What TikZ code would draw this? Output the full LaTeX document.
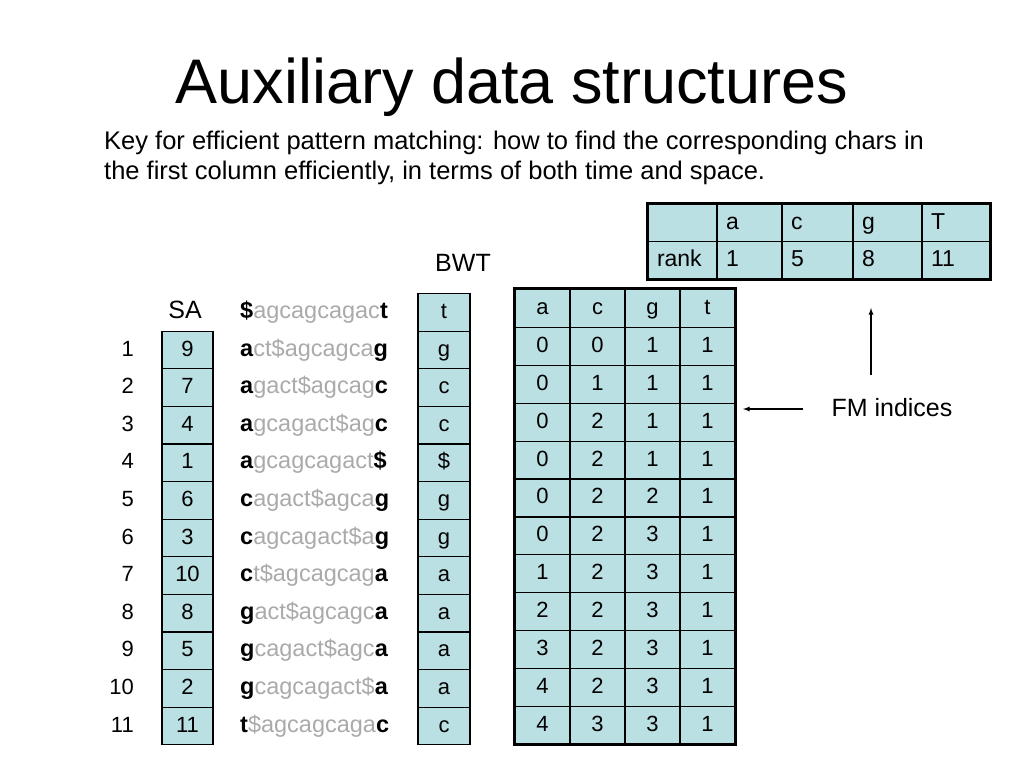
\documentclass[tikz,border=0pt]{standalone}
\usepackage{fontspec}
\setmainfont{Liberation Sans}
\definecolor{cellblue}{RGB}{187,224,227}
\definecolor{fadegray}{RGB}{170,170,170}
\newcommand{\rot}[3]{\textbf{#1}\textcolor{fadegray}{#2}\textbf{#3}}
\begin{document}
\begin{tikzpicture}[x=1pt,y=-1pt,>=latex,
  txt/.style={font=\fontsize{22}{22}\selectfont,text height=16pt,text depth=4pt},
  cell/.style={txt,draw,fill=cellblue,line width=1.2pt,inner sep=0pt,minimum height=37.6pt},
  fmcell/.style={cell,minimum width=55pt,minimum height=37.9pt},
  rcell/.style={txt,font=\fontsize{23}{23}\selectfont,draw,fill=cellblue,line width=1.2pt,inner xsep=9pt,inner ysep=0pt,minimum height=37.5pt,align=left},
  lbl/.style={txt,font=\fontsize{25}{25}\selectfont},
  rotn/.style={txt,font=\fontsize{23.5}{23.5}\selectfont,anchor=west,inner sep=0pt}]
\useasboundingbox (0,0) rectangle (1024,768);
% title and text
\node[anchor=base,font=\fontsize{63}{63}\selectfont] (title) at (512,103) {Auxiliary data structures};
\node[anchor=north west,align=left,font=\fontsize{25.5}{30}\selectfont,inner sep=0pt] (key) at (104,131)
  {Key for efficient pattern matching: how to find the corresponding chars in\\the first column efficiently, in terms of both time and space.};
% rank table
\node[rcell,text width=51pt] (r00) at (682.5,223) {};
\node[rcell,text width=47pt] (r01) at (749.5,223) {a};
\node[rcell,text width=53pt] (r02) at (817.5,223) {c};
\node[rcell,text width=51pt] (r03) at (887.5,223) {g};
\node[rcell,text width=50pt] (r04) at (956,223) {T};
\node[rcell,text width=51pt] (r10) at (682.5,260.5) {rank};
\node[rcell,text width=47pt] (r11) at (749.5,260.5) {1};
\node[rcell,text width=53pt] (r12) at (817.5,260.5) {5};
\node[rcell,text width=51pt] (r13) at (887.5,260.5) {8};
\node[rcell,text width=50pt] (r14) at (956,260.5) {11};
\draw[line width=3pt] (r00.north west) rectangle (r14.south east);
% labels
\node[lbl] (bwt) at (463,265) {BWT};
\node[lbl] (sa) at (185,312) {SA};
\node[rotn] (m0) at (240,312.4) {\rot{\$}{agcagcagac}{t}};
\node[cell,minimum width=52pt] (b0) at (444,312.4) {t};
% suffix array, rotations, bwt
\foreach \i/\s/\f/\m/\l/\b in {1/9/a/ct\$agcagca/g/g, 2/7/a/gact\$agcag/c/c, 3/4/a/gcagact\$ag/c/c,
  4/1/a/gcagcagact/\$/\$, 5/6/c/agact\$agca/g/g, 6/3/c/agcagact\$a/g/g, 7/10/c/t\$agcagcag/a/a,
  8/8/g/act\$agcagc/a/a, 9/5/g/cagact\$agc/a/a, 10/2/g/cagcagact\$/a/a, 11/11/t/\$agcagcaga/c/c}{
  \node[txt,anchor=east,inner sep=0pt] (n\i) at (134,{312.4+37.6*\i}) {\i};
  \node[cell,minimum width=51pt] (s\i) at (187.5,{312.4+37.6*\i}) {\s};
  \node[rotn] (m\i) at (240,{312.4+37.6*\i}) {\rot{\f}{\m}{\l}};
  \node[cell,minimum width=52pt] (b\i) at (444,{312.4+37.6*\i}) {\b};
}
% FM table
\foreach \a/\c/\g/\t [count=\k from 0] in {a/c/g/t, 0/0/1/1, 0/1/1/1, 0/2/1/1, 0/2/1/1, 0/2/2/1,
  0/2/3/1, 1/2/3/1, 2/2/3/1, 3/2/3/1, 4/2/3/1, 4/3/3/1}{
  \node[fmcell] (f\k a) at (542.5,{289.5+37.9*(\k+0.5)}) {\a};
  \node[fmcell] (f\k c) at (597.5,{289.5+37.9*(\k+0.5)}) {\c};
  \node[fmcell] (f\k g) at (652.5,{289.5+37.9*(\k+0.5)}) {\g};
  \node[fmcell] (f\k t) at (707.5,{289.5+37.9*(\k+0.5)}) {\t};
}
\draw[line width=3pt] (f0a.north west) rectangle (f11t.south east);
% FM indices
\node[anchor=west,font=\fontsize{25}{25}\selectfont] (fmi) at (828,408) {FM indices};
\coordinate (h1) at (803,409);
\coordinate (h2) at (743,409);
\coordinate (v1) at (871,375);
\coordinate (v2) at (871,308);
\draw[->,line width=1.3pt] (h1)--(h2);
\draw[->,line width=1.3pt] (v1)--(v2);
\end{tikzpicture}
\end{document}
